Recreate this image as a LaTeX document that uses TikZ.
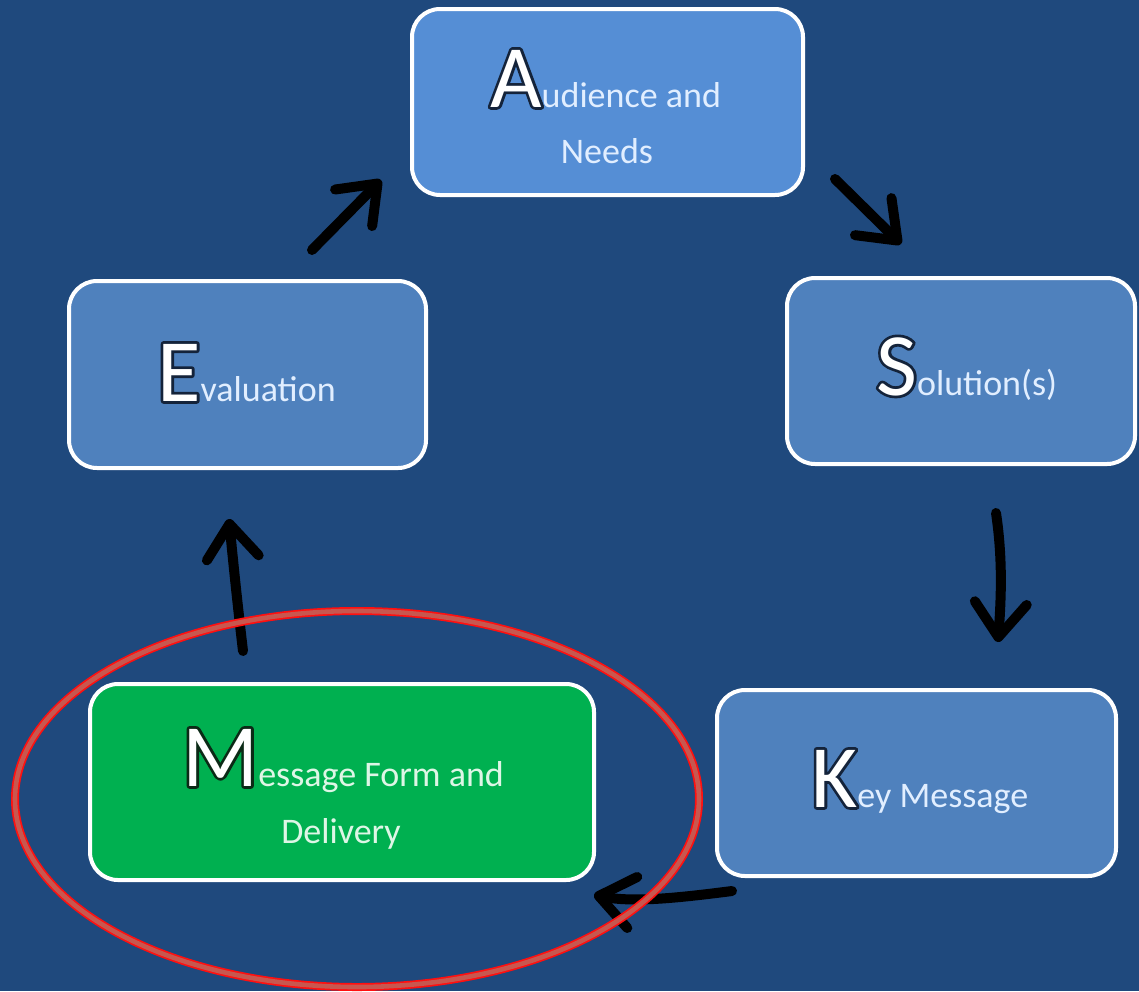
\documentclass[tikz,border=0pt]{standalone}
\usepackage{fontspec}
\setmainfont{Carlito}
\usetikzlibrary{arrows.meta}
\definecolor{bg}{HTML}{1F497D}
\definecolor{boxA}{HTML}{558ED5}
\definecolor{boxB}{HTML}{4F81BD}
\definecolor{boxG}{HTML}{00B050}
\definecolor{txtB}{RGB}{225,238,255}
\definecolor{txtG}{RGB}{222,246,230}
\definecolor{outlB}{HTML}{14233A}
\definecolor{outlG}{HTML}{0B2A16}
\definecolor{ringin}{HTML}{C8574F}
\definecolor{ringout}{HTML}{FF1010}

% big white letter with a dark outline: stroked copy under a filled copy
\newcommand\bigoutl[2][outlB]{{\fontsize{89}{89}\selectfont
  \rlap{\color{#1}\special{pdf:literal direct 1 Tr 1 j 5.5 w}#2\special{pdf:literal direct 0 Tr}}%
  {\color{white}#2}}}

\tikzset{
  stagebox/.style={draw=white, line width=4pt, rounded corners=28pt, inner sep=0pt},
  lbl/.style={inner sep=0pt, font=\fontsize{36}{36}\selectfont, text=txtB},
  lblg/.style={lbl, text=txtG},
  cyc/.style={draw=black, line width=10pt, line cap=round,
    -{Straight Barb[length=34pt,width=52pt,round]}},
}

\begin{document}
\begin{tikzpicture}[x=1pt,y=-1pt]
\fill[bg] (0,0) rectangle (1139,991);
\useasboundingbox (0,0) rectangle (1139,991);

% boxes
\node[stagebox, fill=boxA, minimum width=391pt, minimum height=186pt] (A) at (607.5,102) {};
\node[stagebox, fill=boxB, minimum width=357pt, minimum height=187pt] (E) at (247.5,374.5) {};
\node[stagebox, fill=boxB, minimum width=348pt, minimum height=186pt] (S) at (961,371) {};
\node[stagebox, fill=boxB, minimum width=399pt, minimum height=186pt] (K) at (916.5,783) {};
\node[stagebox, fill=boxG, minimum width=504pt, minimum height=196pt] (M) at (342,782) {};

% labels
\node[lbl, anchor=base west] (tA) at (490,107) {\bigoutl{A}udience and};
\node[lbl, anchor=base] (tA2) at (607,163) {Needs};
\node[lbl, anchor=base west] (tE) at (157,401) {\bigoutl{E}valuation};
\node[lbl, anchor=base west] (tS) at (876,395) {\bigoutl{S}olution(s)};
\node[lbl, anchor=base west] (tK) at (811,807) {\bigoutl{K}ey Message};
\node[lblg, anchor=base west] (tM) at (182,786) {\bigoutl[outlG]{M}essage Form and};
\node[lblg, anchor=base] (tM2) at (341,843) {Delivery};

% arrow end points
\coordinate (eA1) at (312,250);
\coordinate (eA2) at (381,180);
\coordinate (aS1) at (835,179);
\coordinate (aS2) at (901,244);
\coordinate (sK1) at (996,513);
\coordinate (sK2) at (998,642);
\coordinate (kM1) at (732,891);
\coordinate (kM2) at (594,895);
\coordinate (mE1) at (243,651);
\coordinate (mE2) at (229,519);

\draw[cyc] (eA1) -- (eA2);
\draw[cyc] (aS1) -- (aS2);
\draw[cyc] (sK1) .. controls (1003,560) and (1001,600) .. (sK2);
\draw[cyc] (kM1) .. controls (685,897) and (635,903) .. (kM2);
\draw[cyc] (mE1) .. controls (237,600) and (233,560) .. (mE2);

% highlight ring
\draw[ringout, line width=8pt] (357,799) ellipse [x radius=342, y radius=188];
\draw[ringin, line width=4.6pt] (357,799) ellipse [x radius=342, y radius=188];
\end{tikzpicture}
\end{document}
